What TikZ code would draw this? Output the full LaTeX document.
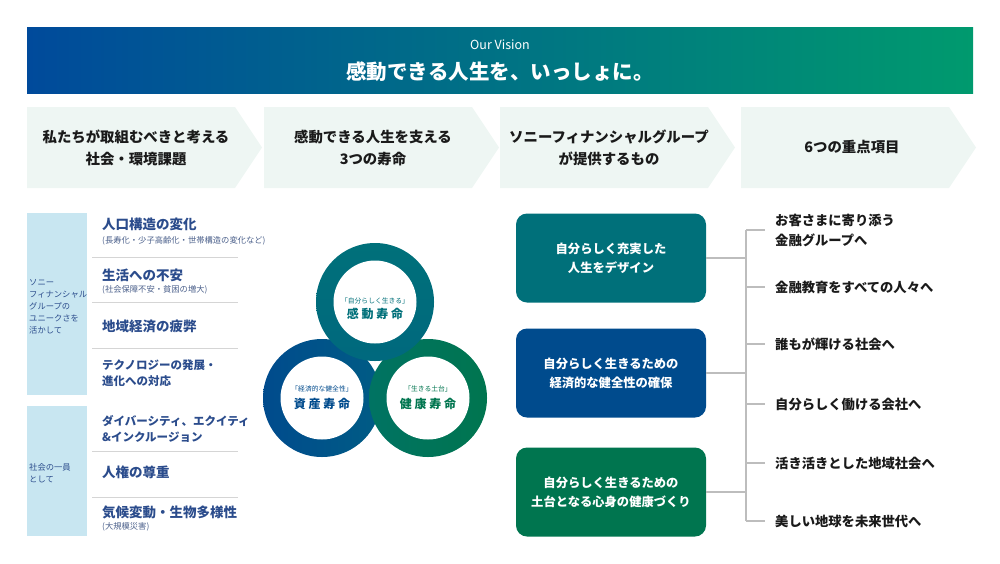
\documentclass[tikz,border=0pt]{standalone}
\usepackage{fontspec}
\setmainfont{Noto Sans CJK JP}
\usetikzlibrary{positioning}
\definecolor{visionblue}{HTML}{004A9B}
\definecolor{visionmid}{HTML}{0080A0}
\definecolor{visiongreen}{HTML}{009A6E}
\definecolor{chevronmint}{HTML}{EEF6F3}
\definecolor{sidebarblue}{HTML}{C8E6F1}
\definecolor{issueblue}{HTML}{2B4C8C}
\definecolor{noteblue}{HTML}{4A5F8A}
\definecolor{rulegrey}{HTML}{D5D5D5}
\definecolor{linkgrey}{HTML}{BDBDBD}
\definecolor{inkblack}{HTML}{1A1A1A}
\definecolor{lifeteal}{HTML}{00707A}
\definecolor{lifeblue}{HTML}{004B8D}
\definecolor{lifegreen}{HTML}{00754F}
\begin{document}
\begin{tikzpicture}
    [x=1pt,y=-1pt,
     head/.style={font=\bfseries\fontsize{14.4}{22}\selectfont,align=center,text=inkblack},
     sidenote/.style={anchor=west,inner sep=0,align=left,text=issueblue,font=\fontsize{8.3}{12}\selectfont},
     issue/.style={anchor=west,inner sep=0,align=left,text=issueblue,font=\bfseries\fontsize{13.5}{16}\selectfont},
     smallissue/.style={issue,font=\bfseries\fontsize{11.5}{16}\selectfont},
     note/.style={anchor=west,inner sep=0,text=noteblue,font=\fontsize{8.3}{10}\selectfont},
     sep/.style={draw=rulegrey,line width=0.8pt},
     ring/.style={font=\fontsize{6.8}{8}\selectfont},
     life/.style={font=\bfseries\fontsize{12}{14}\selectfont},
     offer/.style={rounded corners=11pt,minimum width=190pt,minimum height=89pt,text=white,
       align=center,font=\bfseries\fontsize{12.3}{19}\selectfont},
     goal/.style={anchor=west,inner sep=0,align=left,text=inkblack,font=\bfseries\fontsize{13.3}{20}\selectfont},
     link/.style={draw=linkgrey,line width=1.3pt}]
    \useasboundingbox (0,0) rectangle (1000,563);
    \shade[left color=visionblue,middle color=visionmid,right color=visiongreen]
      (27,27) rectangle (973,93);
    \node[text=white,font=\fontsize{12.5}{14}\selectfont] (motto) at (500,45) {Our Vision};
    \node[text=white,font=\bfseries\fontsize{20.5}{24}\selectfont] (vision) at (500,72)
      {感動できる人生を、いっしょに。};
    \foreach \x in {27,264,500,741}
      \fill[chevronmint] (\x,107) -- ++(208,0) -- ++(27,40.5) -- ++(-27,40.5) -- ++(-208,0) -- cycle;
    \node[head] (h1) at (136,148) {私たちが取組むべきと考える\\社会・環境課題};
    \node[head] (h2) at (373,148) {感動できる人生を支える\\3つの寿命};
    \node[head] (h3) at (609,148) {ソニーフィナンシャルグループ\\が提供するもの};
    \node[head] (h4) at (852,147) {6つの重点項目};

    \fill[sidebarblue] (27,213) rectangle (87,395);
    \fill[sidebarblue] (27,406) rectangle (87,536);
    \node[sidenote] (unique) at (29,307) {ソニー\\フィナンシャル\\グループの\\ユニークさを\\活かして};
    \node[sidenote] (member) at (29,473) {社会の一員\\として};

    \node[issue] (i1) at (102,224) {人口構造の変化};
    \node[note] (n1) at (102,241) {(長寿化・少子高齢化・世帯構造の変化など)};
    \node[issue] (i2) at (102,275) {生活への不安};
    \node[note] (n2) at (102,290) {(社会保障不安・貧困の増大)};
    \node[issue] (i3) at (102,326) {地域経済の疲弊};
    \node[smallissue] (i4) at (102,373) {テクノロジーの発展・\\進化への対応};
    \node[smallissue] (i5) at (102,429) {ダイバーシティ、エクイティ\\\&インクルージョン};
    \node[issue] (i6) at (102,472) {人権の尊重};
    \node[issue] (i7) at (102,512) {気候変動・生物多様性};
    \node[note] (n7) at (102,527) {(大規模災害)};
    \foreach \y in {257,302,348,451,497}
      \draw[sep] (92,\y) -- (238,\y);

    \coordinate (kando) at (375,302);
    \coordinate (shisan) at (322,398);
    \coordinate (kenko) at (428,398);
    \shade[left color=lifeblue,right color=lifeblue!55!lifeteal] (shisan) circle (59);
    \shade[right color=lifegreen,left color=lifegreen!55!lifeteal] (kenko) circle (59);
    \shade[top color=lifeteal,bottom color=lifeteal!80!lifeblue] (kando) circle (59);
    \foreach \c in {kando,shisan,kenko}
      \fill[white] (\c) circle (41.5);
    \node[ring,text=lifeteal] (kandotag) at (375,301) {「自分らしく生きる」};
    \node[life,text=lifeteal] (kandolife) at (375,314) {感 動 寿 命};
    \node[ring,text=lifeblue] (shisantag) at (322,389) {「経済的な健全性」};
    \node[life,text=lifeblue] (shisanlife) at (322,404) {資 産 寿 命};
    \node[ring,text=lifegreen] (kenkotag) at (428,389) {「生きる土台」};
    \node[life,text=lifegreen] (kenkolife) at (428,404) {健 康 寿 命};

    \node[offer,fill=lifeteal] (design) at (611,258) {自分らしく充実した\\人生をデザイン};
    \node[offer,fill=lifeblue] (wealth) at (611,373) {自分らしく生きるための\\経済的な健全性の確保};
    \node[offer,fill=lifegreen] (health) at (611,492) {自分らしく生きるための\\土台となる心身の健康づくり};

    \node[goal] (g1) at (775,230) {お客さまに寄り添う\\金融グループへ};
    \node[goal] (g2) at (775,287) {金融教育をすべての人々へ};
    \node[goal] (g3) at (775,344) {誰もが輝ける社会へ};
    \node[goal] (g4) at (775,404) {自分らしく働ける会社へ};
    \node[goal] (g5) at (775,463) {活き活きとした地域社会へ};
    \node[goal] (g6) at (775,521) {美しい地球を未来世代へ};
    \coordinate (spine) at (746,0);
    \draw[link] (g1.west -| spine) -- (g6.west -| spine);
    \foreach \g in {g1,g2,g3,g4,g5,g6}
      \draw[link] (\g.west -| spine) -- ([xshift=-10pt]\g.west);
    \foreach \b in {design,wealth,health}
      \draw[link] (\b.east) -- (\b.east -| spine);
\end{tikzpicture}
\end{document}
